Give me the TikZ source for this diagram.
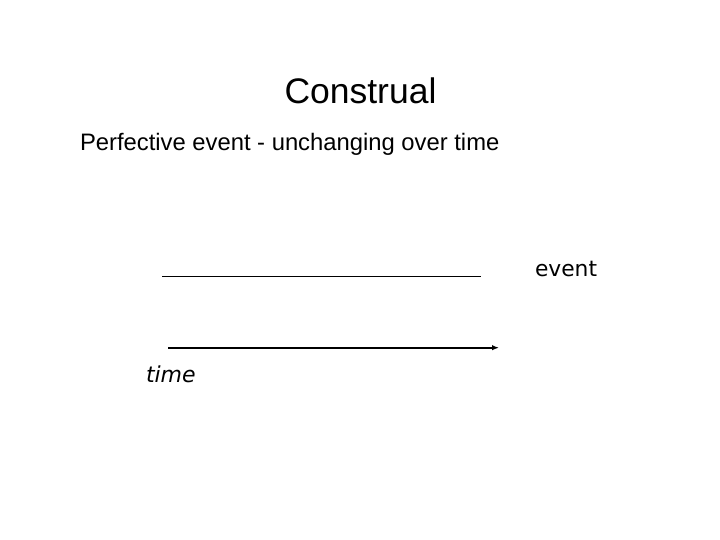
\documentclass[tikz,border=0pt]{standalone}
\usepackage{fontspec}
\setmainfont{Liberation Sans}
\newfontfamily\verd{DejaVu Sans}
\usetikzlibrary{arrows.meta}
\begin{document}
\begin{tikzpicture}[x=1pt,y=-1pt,
  txt/.style={inner sep=0pt,outer sep=0pt,anchor=base west},
  eventline/.style={line width=1pt},
  timearrow/.style={line width=2pt,-{Latex[length=7pt,width=5.5pt]}}]
\useasboundingbox (0,0) rectangle (720,540);
\node[txt] (title) at (284.5,103.5) {\fontsize{35.5}{40}\selectfont Construal};
\node[txt] (sub) at (80,151) {\fontsize{23.8}{28}\selectfont Perfective event - unchanging over time};
\node[txt] (ev) at (535,276) {\verd\fontsize{21.8}{26}\selectfont event};
\node[txt] (tm) at (146,382.7) {\verd\itshape\fontsize{22}{26}\selectfont time};
\coordinate (l1) at (162,276);
\coordinate (l2) at (481,276);
\coordinate (a1) at (168,347.7);
\coordinate (a2) at (499,347.7);
\draw[eventline] (l1) -- (l2);
\draw[timearrow] (a1) -- (a2);
\end{tikzpicture}
\end{document}
